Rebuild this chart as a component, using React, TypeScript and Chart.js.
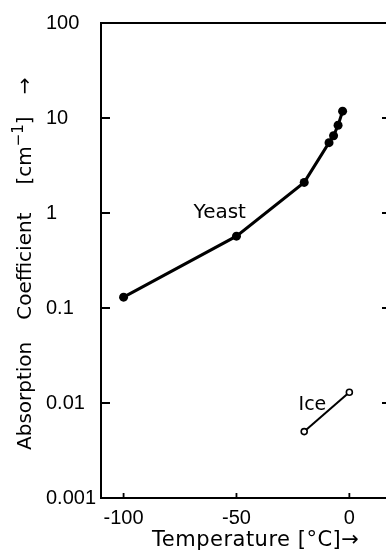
import { useEffect, useRef } from "react";
import { Chart, registerables } from "chart.js";

Chart.register(...registerables);

// Absorption coefficient of yeast and of ice versus temperature
const yeastTemps = [-100, -50, -20, -9, -7, -5, -3];
const yeastCoeffs = [0.13, 0.57, 2.1, 5.5, 6.5, 8.4, 11.8];
const iceTemps = [-20, 0];
const iceCoeffs = [0.005, 0.013];

const xTicks = [-100, -50, 0];
const xTickLabels = ["-100", "-50", "0"];
const yTicks = [0.001, 0.01, 0.1, 1, 10, 100];
const yTickLabels = ["0.001", "0.01", "0.1", "1", "10", "100"];

const TICK_FONT = "'Liberation Sans', Arial, sans-serif";
const FONT = "'DejaVu Sans', 'Liberation Sans', sans-serif";

// Frame, inward tick marks, axis titles and series labels
const decorations = {
  id: "decorations",
  afterDatasetsDraw(chart: any) {
    const { ctx, chartArea } = chart;
    const xs = chart.scales.x;
    const ys = chart.scales.y;
    const { left, right, top, bottom } = chartArea;

    ctx.save();
    ctx.strokeStyle = "#000";
    ctx.fillStyle = "#000";
    ctx.lineWidth = 2;
    ctx.lineCap = "butt";
    ctx.strokeRect(left, top, right - left, bottom - top);

    ctx.lineWidth = 1.8;
    ctx.beginPath();
    for (const v of yTicks) {
      const py = ys.getPixelForValue(v);
      ctx.moveTo(left, py);
      ctx.lineTo(left + 9, py);
      ctx.moveTo(right, py);
      ctx.lineTo(right - 8, py);
    }
    for (const v of xTicks) {
      const px = xs.getPixelForValue(v);
      ctx.moveTo(px, bottom);
      ctx.lineTo(px, bottom - 5);
    }
    ctx.stroke();

    // series labels
    ctx.textBaseline = "middle";
    ctx.textAlign = "left";
    ctx.font = `20px ${FONT}`;
    ctx.fillText("Yeast", xs.getPixelForValue(-69), ys.getPixelForValue(1.0));
    ctx.font = `19px ${FONT}`;
    ctx.fillText("Ice", xs.getPixelForValue(-22.5), ys.getPixelForValue(0.0095));

    // x title
    ctx.textBaseline = "alphabetic";
    ctx.font = `21px ${FONT}`;
    (ctx as any).letterSpacing = "0.5px";
    ctx.fillText("Temperature [°C]→", 152, 546);
    (ctx as any).letterSpacing = "0px";

    // y title, rotated, written piece by piece
    ctx.translate(31, 450);
    ctx.rotate(-Math.PI / 2);
    let u = 0;
    const put = (t: string, size: number, dv = 0) => {
      ctx.font = `${size}px ${FONT}`;
      ctx.fillText(t, u, dv);
      u += ctx.measureText(t).width;
    };
    put("Absorption", 20);
    u += 22;
    put("Coefficient", 20);
    u += 28;
    put("[cm", 20);
    put("−1", 15, -8);
    put("]", 20);
    u += 22;
    put("→", 20);
    ctx.restore();
  },
};

export default function App() {
  const canvasRef = useRef<HTMLCanvasElement | null>(null);

  useEffect(() => {
    const canvas = canvasRef.current;
    if (!canvas) return;
    const chart = new Chart(canvas, {
      type: "scatter",
      data: {
        datasets: [
          {
            label: "Yeast",
            data: yeastTemps.map((t, i) => ({ x: t, y: yeastCoeffs[i] })),
            showLine: true,
            borderColor: "#000",
            borderWidth: 3,
            pointRadius: 4.5,
            pointBackgroundColor: "#000",
            pointBorderWidth: 0,
          },
          {
            label: "Ice",
            data: iceTemps.map((t, i) => ({ x: t, y: iceCoeffs[i] })),
            showLine: true,
            borderColor: "#000",
            borderWidth: 2,
            pointRadius: 3,
            pointBackgroundColor: "#fff",
            pointBorderColor: "#000",
            pointBorderWidth: 1.6,
          },
        ],
      },
      options: {
        animation: false,
        responsive: false,
        devicePixelRatio: 1,
        layout: { padding: { left: 46, top: 23, right: 10, bottom: 0 } },
        plugins: {
          legend: { display: false },
          tooltip: { enabled: false },
        },
        scales: {
          x: {
            type: "linear",
            min: -110,
            max: 18,
            grid: { display: false, drawTicks: false },
            border: { display: false },
            ticks: {
              color: "#000",
              font: { family: TICK_FONT, size: 20 },
              padding: 8,
              maxRotation: 0,
              autoSkip: false,
              callback: (_v: any, i: number) => xTickLabels[i],
            },
            afterBuildTicks: (s: any) => {
              s.ticks = xTicks.map((v) => ({ value: v }));
            },
            afterFit: (s: any) => {
              s.height = 60;
            },
          },
          y: {
            type: "logarithmic",
            min: 0.001,
            max: 100,
            grid: { display: false, drawTicks: false },
            border: { display: false },
            ticks: {
              color: "#000",
              font: { family: TICK_FONT, size: 20 },
              crossAlign: "far",
              autoSkip: false,
              callback: (_v: any, i: number) => yTickLabels[i],
            },
            afterBuildTicks: (s: any) => {
              s.ticks = yTicks.map((v) => ({ value: v }));
            },
            afterFit: (s: any) => {
              s.width = 55;
            },
          },
        },
      },
      plugins: [decorations],
    });
    return () => chart.destroy();
  }, []);

  return (
    <div
      style={{
        position: "absolute",
        left: 0,
        top: 0,
        width: 386,
        height: 558,
        overflow: "hidden",
        background: "#fff",
      }}
    >
      <canvas ref={canvasRef} width={400} height={558} style={{ display: "block" }} />
    </div>
  );
}
